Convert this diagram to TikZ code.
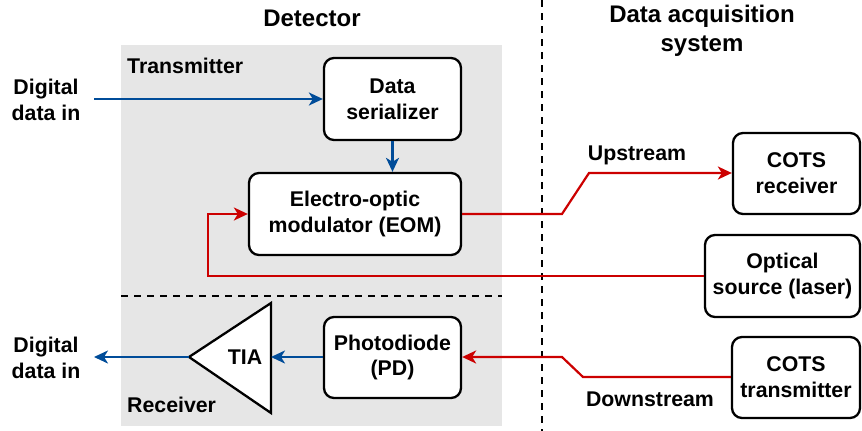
\documentclass[tikz,border=0pt]{standalone}
\usepackage{fontspec}
\setmainfont{Liberation Sans}
\usetikzlibrary{arrows.meta}
\definecolor{lblue}{HTML}{004C99}
\definecolor{lred}{HTML}{CC0000}
\definecolor{lgrey}{HTML}{E6E6E6}
\tikzset{
  box/.style={draw=black, line width=2.3pt, rounded corners=10pt, fill=white, align=center, inner sep=0pt, font=\txtfont},
  lbl/.style={align=center, inner sep=0pt, font=\txtfont},
  ttl/.style={align=center, inner sep=0pt, font=\ttlfont},
  barr/.style={draw=lblue, line width=2.2pt, -{Stealth[length=14pt,width=13pt,inset=4pt]}},
  rarr/.style={draw=lred, line width=2.2pt, -{Stealth[length=14pt,width=13pt,inset=4pt]}},
  sep/.style={draw=black, line width=2.3pt, dash pattern=on 7pt off 6pt},
}
\newcommand{\txtfont}{\fontsize{21.3}{25.7}\selectfont\bfseries}
\newcommand{\ttlfont}{\fontsize{24}{29}\selectfont\bfseries}
\begin{document}
\begin{tikzpicture}[x=1pt,y=-1pt]
\useasboundingbox (0,0) rectangle (862,431);
\fill[lgrey] (121,45) rectangle (502,426);
\draw[sep] (121,296) -- (502,296);
\draw[sep] (542,0) -- (542,431);

\node[ttl] (tdet) at (312,18) {Detector};
\node[ttl] (tdaq) at (702,31) {Data acquisition\\system};
\node[lbl, anchor=west] (ttx) at (127,66) {Transmitter};
\node[lbl, anchor=west] (trx) at (127,405) {Receiver};

\node[box, minimum width=137pt, minimum height=82pt] (ser) at (392.5,99) {Data\\serializer};
\node[box, minimum width=212pt, minimum height=82pt] (eom) at (355,214) {Electro-optic\\modulator (EOM)};
\node[box, minimum width=127pt, minimum height=81pt] (cotsr) at (796.5,173.5) {COTS\\receiver};
\node[box, minimum width=155pt, minimum height=82pt] (laser) at (782.5,276) {Optical\\source (laser)};
\node[box, minimum width=128pt, minimum height=81pt] (cotst) at (796,377.5) {COTS\\transmitter};
\node[box, minimum width=137pt, minimum height=81pt] (pd) at (392.5,357.5) {Photodiode\\(PD)};

\draw[line width=2.3pt, fill=white, line join=miter] (189,357) -- (271,303) -- (271,413) -- cycle;
\coordinate (tiaL) at (189,357);
\coordinate (tiaR) at (271,357);
\node[lbl] (tia) at (245,357) {TIA};

\node[lbl] (din) at (46,100) {Digital\\data in};
\node[lbl] (dout) at (46,358) {Digital\\data in};
\coordinate (dinE) at (94,99);
\coordinate (doutE) at (94,357);

\draw[barr] (dinE) -- (ser.west |- dinE);
\draw[barr] (ser.south) -- (eom.north -| ser.south);
\draw[barr] (pd.west |- tiaR) -- (tiaR);
\draw[barr] (tiaL) -- (doutE);

\draw[rarr] (laser.west) -- (208,276) -- (208,214) -- (eom.west);
\draw[rarr] (eom.east) -- (562,214) -- (589,173) -- (cotsr.west |- 0,173);
\draw[rarr] (cotst.west |- 0,377) -- (583,377) -- (562,357) -- (pd.east |- 0,357);

\node[lbl] (up) at (637,155) {Upstream};
\node[lbl] (down) at (650,399) {Downstream};
\end{tikzpicture}
\end{document}
